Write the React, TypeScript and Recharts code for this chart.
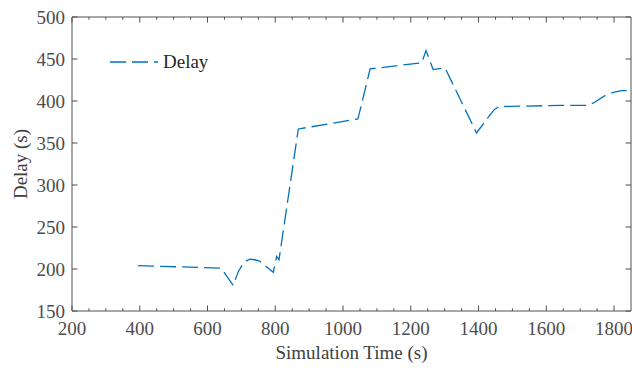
import React from 'react';
import { LineChart, Line, XAxis, YAxis } from 'recharts';

const TIME = [395, 520, 640, 676, 691, 706, 716, 725, 740, 755, 794, 804, 811, 868, 1044, 1080, 1178, 1232, 1245, 1266, 1301, 1394, 1420, 1434, 1447, 1460, 1491, 1643, 1724, 1739, 1773, 1798, 1822, 1850];
const DELAY = [204, 202.5, 201, 180.5, 197, 207, 210, 211.7, 211, 209, 196, 215, 211, 366.7, 378.6, 438.2, 443, 445.4, 460, 437.4, 439.4, 362, 376, 383.5, 390, 393.3, 393.6, 394.8, 394.8, 397.7, 406.4, 410.3, 412.4, 412.2];

const X_TICKS = [200, 250, 300, 350, 400, 450, 500, 550, 600, 650, 700, 750, 800, 850, 900, 950, 1000, 1050, 1100, 1150, 1200, 1250, 1300, 1350, 1400, 1450, 1500, 1550, 1600, 1650, 1700, 1750, 1800, 1850];
const Y_TICKS = [150, 200, 250, 300, 350, 400, 450, 500];

const X_MIN = 200;
const X_MAX = 1850;
const Y_MIN = 150;
const Y_MAX = 500;

const data = TIME.map((t, i) => ({ t, delay: DELAY[i] }));

const W = 632;
const H = 368;
const MARGIN = { top: 17, right: 1, bottom: 0, left: 0 };
const PLOT_TOP = MARGIN.top;
const PLOT_RIGHT = W - MARGIN.right;

const AXIS = '#505050';
const BLUE = '#0072BD';
const FONT = '"Liberation Serif", serif';
const MAJOR = 5.5;
const MINOR = 2.75;

// bottom ticks also draw the matching top ticks; the last one closes the box on the right
const BottomTick = ({ x, y, payload }: any) => {
  if (payload.value === X_MAX) {
    return <line x1={x} x2={x} y1={y} y2={PLOT_TOP} stroke={AXIS} />;
  }
  const major = payload.value % 200 === 0;
  const len = major ? MAJOR : MINOR;
  return (
    <g>
      <line x1={x} x2={x} y1={y} y2={y - len} stroke={AXIS} />
      <line x1={x} x2={x} y1={PLOT_TOP} y2={PLOT_TOP + len} stroke={AXIS} />
      {major && (
        <text x={x} y={y + 24} textAnchor="middle" fill="#4d4d4d" fontSize={19} fontFamily={FONT}>
          {payload.value}
        </text>
      )}
    </g>
  );
};

// left ticks also draw the right ticks; the top one closes the box on top
const LeftTick = ({ x, y, payload }: any) => (
  <g>
    <line x1={x} x2={x + MAJOR} y1={y} y2={y} stroke={AXIS} />
    <line x1={PLOT_RIGHT} x2={PLOT_RIGHT - MAJOR} y1={y} y2={y} stroke={AXIS} />
    {payload.value === Y_MAX && <line x1={x} x2={PLOT_RIGHT} y1={y} y2={y} stroke={AXIS} />}
    <text x={x - 7} y={y + 6.5} textAnchor="end" fill="#4d4d4d" fontSize={19} fontFamily={FONT}>
      {payload.value}
    </text>
  </g>
);

const YLabel = ({ viewBox }: any) => {
  const cy = viewBox.y + viewBox.height / 2;
  return (
    <text
      x={27}
      y={cy}
      transform={`rotate(-90, 27, ${cy})`}
      textAnchor="middle"
      fill="#404040"
      fontSize={19}
      fontFamily={FONT}
    >
      Delay (s)
    </text>
  );
};

export default function App() {
  return (
    <div style={{ position: 'absolute', left: 0, top: 0, width: W, height: H, background: '#fff' }}>
      <LineChart width={W} height={H} data={data} margin={MARGIN}>
        <XAxis
          xAxisId="b"
          dataKey="t"
          type="number"
          domain={[X_MIN, X_MAX]}
          allowDataOverflow
          ticks={X_TICKS}
          interval={0}
          height={57}
          tickSize={0}
          tickMargin={0}
          tickLine={false}
          stroke={AXIS}
          tick={<BottomTick />}
          label={{ value: 'Simulation Time (s)', position: 'insideBottom', offset: 9, fill: '#404040', fontSize: 19, fontFamily: FONT }}
        />
        <YAxis
          yAxisId="l"
          type="number"
          domain={[Y_MIN, Y_MAX]}
          allowDataOverflow
          ticks={Y_TICKS}
          interval={0}
          width={72}
          tickSize={0}
          tickMargin={0}
          tickLine={false}
          stroke={AXIS}
          tick={<LeftTick />}
          label={<YLabel />}
        />
        <Line
          xAxisId="b"
          yAxisId="l"
          dataKey="delay"
          type="linear"
          stroke={BLUE}
          strokeWidth={1.3}
          strokeDasharray="16 6"
          dot={false}
          isAnimationActive={false}
        />
      </LineChart>
      <div style={{ position: 'absolute', left: 108, top: 50, display: 'flex', alignItems: 'center' }}>
        <svg width={52} height={24}>
          <line x1={2} x2={50} y1={12} y2={12} stroke={BLUE} strokeWidth={1.3} strokeDasharray="16 6" />
        </svg>
        <span style={{ fontFamily: FONT, fontSize: 19, color: '#262626', marginLeft: 3 }}>Delay</span>
      </div>
    </div>
  );
}
